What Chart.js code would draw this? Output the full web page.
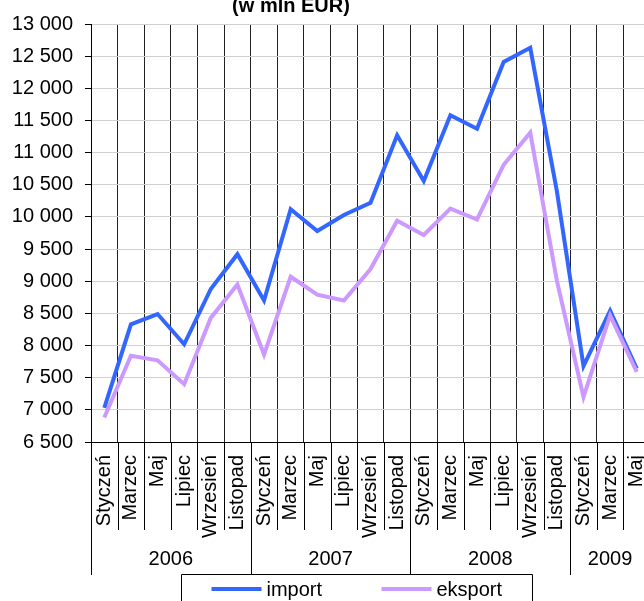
<!DOCTYPE html>
<html>
<head>
<meta charset="utf-8">
<script src="https://cdn.jsdelivr.net/npm/chart.js@4/dist/chart.umd.min.js"></script>
<style>
  html, body { margin: 0; padding: 0; background: #fff; overflow: hidden; width: 644px; height: 601px; }
  #wrap { position: absolute; left: 0; top: 0; width: 674px; height: 601px; }
</style>
</head>
<body>
<div id="wrap"><canvas id="c" width="674" height="601"></canvas></div>
<script>
// ---- data ----
const titleText = '(w mln EUR)';
const months = ['Styczeń','Marzec','Maj','Lipiec','Wrzesień','Listopad',
                'Styczeń','Marzec','Maj','Lipiec','Wrzesień','Listopad',
                'Styczeń','Marzec','Maj','Lipiec','Wrzesień','Listopad',
                'Styczeń','Marzec','Maj'];
const years = ['2006','2007','2008','2009'];
const monthsPerYear = [6, 6, 6, 3];
const importValues = [7030, 8330, 8490, 8020, 8880, 9420, 8700, 10120, 9780, 10030, 10220, 11270,
                      10560, 11580, 11370, 12410, 12630, 10400, 7680, 8540, 7640];
const eksportValues = [6880, 7840, 7770, 7400, 8430, 8950, 7860, 9070, 8790, 8700, 9190, 9940,
                       9720, 10130, 9960, 10810, 11310, 9010, 7200, 8470, 7590];
const yMin = 6500, yMax = 13000, yStep = 500;

const FONT = "'Liberation Sans', Arial, sans-serif";
const IMPORT_COLOR = '#3366ff';
const EKSPORT_COLOR = '#cc99ff';

function fmt(v) {
  return String(v).replace(/\B(?=(\d{3})+(?!\d))/g, ' ');
}

const extras = {
  id: 'extras',
  afterDraw(chart) {
    const ctx = chart.ctx;
    const xs = chart.scales.x;
    const area = chart.chartArea;
    const half = (xs.getPixelForValue(1) - xs.getPixelForValue(0)) / 2;
    ctx.save();
    // title
    ctx.fillStyle = '#000';
    ctx.font = 'bold 20px ' + FONT;
    ctx.textAlign = 'center';
    ctx.textBaseline = 'alphabetic';
    ctx.fillText(titleText, 291, 12);

    // separators below the axis
    const yearStarts = [];
    let acc = 0;
    monthsPerYear.forEach(n => { yearStarts.push(acc); acc += n; });
    ctx.strokeStyle = '#000';
    ctx.lineWidth = 1;
    for (let i = 0; i <= months.length; i++) {
      const bx = Math.round(xs.getPixelForValue(i) - half) + 0.5;
      const isYear = yearStarts.includes(i) || i === months.length;
      ctx.beginPath();
      ctx.moveTo(bx, area.bottom);
      ctx.lineTo(bx, isYear ? 575 : 530);
      ctx.stroke();
    }
    // year labels
    ctx.font = '20px ' + FONT;
    ctx.textAlign = 'center';
    ctx.textBaseline = 'middle';
    years.forEach((yr, k) => {
      const s = yearStarts[k], e = s + monthsPerYear[k] - 1;
      const cx = (xs.getPixelForValue(s) + xs.getPixelForValue(e)) / 2;
      ctx.fillText(yr, cx, 559);
    });

    // legend
    const boxL = 181.5, boxR = 532.5, boxT = 574.5;
    ctx.fillStyle = '#fff';
    ctx.fillRect(boxL, boxT, boxR - boxL, 40);
    ctx.strokeStyle = '#000';
    ctx.beginPath();
    ctx.moveTo(boxL, 610); ctx.lineTo(boxL, boxT); ctx.lineTo(boxR, boxT); ctx.lineTo(boxR, 610);
    ctx.stroke();
    const itemX = [boxL + 30, boxL + 200];
    const ly = 589;
    chart.data.datasets.forEach((ds, k) => {
      ctx.strokeStyle = ds.borderColor;
      ctx.lineWidth = 4;
      ctx.beginPath();
      ctx.moveTo(itemX[k], ly);
      ctx.lineTo(itemX[k] + 50, ly);
      ctx.stroke();
      ctx.fillStyle = '#000';
      ctx.font = '20px ' + FONT;
      ctx.textAlign = 'left';
      ctx.textBaseline = 'middle';
      ctx.fillText(ds.label, itemX[k] + 55, ly + 1);
    });
    ctx.restore();
  }
};

new Chart(document.getElementById('c'), {
  type: 'line',
  data: {
    labels: months,
    datasets: [
      { label: 'import', data: importValues, borderColor: IMPORT_COLOR, backgroundColor: IMPORT_COLOR,
        borderWidth: 4, pointRadius: 0, tension: 0, fill: false, order: 1 },
      { label: 'eksport', data: eksportValues, borderColor: EKSPORT_COLOR, backgroundColor: EKSPORT_COLOR,
        borderWidth: 4, pointRadius: 0, tension: 0, fill: false, order: 0 }
    ]
  },
  options: {
    responsive: false,
    animation: false,
    devicePixelRatio: 1,
    layout: { padding: { top: 22, right: 11, left: 0, bottom: 0 } },
    plugins: { legend: { display: false }, title: { display: false }, tooltip: { enabled: false } },
    scales: {
      x: {
        type: 'category',
        offset: true,
        grid: { offset: true, color: '#222', lineWidth: 1, drawTicks: false },
        border: { display: true, color: '#000', width: 1 },
        ticks: { autoSkip: false, minRotation: 90, maxRotation: 90, padding: 13,
                 color: '#000', font: { family: FONT, size: 20 } },
        afterFit(scale) { scale.height = 159; }
      },
      y: {
        min: yMin, max: yMax,
        grid: { color: '#d0d0d0', lineWidth: 1, drawTicks: true, tickLength: 6, tickColor: '#000' },
        border: { display: true, color: '#000', width: 1 },
        ticks: { stepSize: yStep, padding: 12, color: '#000', font: { family: FONT, size: 20 },
                 callback: v => fmt(v) },
        afterFit(scale) { scale.width = 91; }
      }
    }
  },
  plugins: [extras]
});
</script>
</body>
</html>
